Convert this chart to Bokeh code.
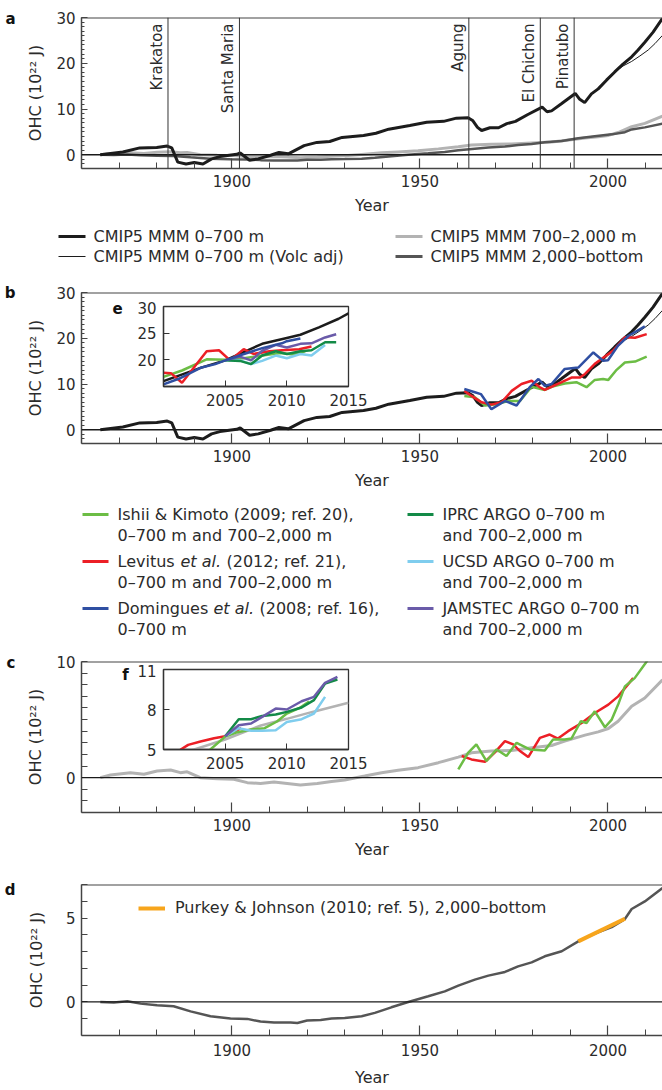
import numpy as np
from bokeh.plotting import figure
from bokeh.models import Range1d, FixedTicker, Span, Label, Legend, LegendItem, LinearAxis
from bokeh.layouts import column
from bokeh.embed import file_html
from bokeh.resources import INLINE
from bokeh.core.properties import value

FONT = "DejaVu Sans"
TXT = "#2b2b2b"
AX = "#444444"

# ---------------------------------------------------------------- data
volc_years = [1883, 1902, 1963, 1982, 1991]
volc_names = ["Krakatoa", "Santa Maria", "Agung", "El Chichon", "Pinatubo"]

# CMIP5 MMM 0-700 m
upper_years = [1865, 1871, 1875.5, 1880, 1882.8, 1884.0, 1885.6, 1887.8, 1890, 1892.3,
               1894.6, 1896.8, 1901.3, 1902.2, 1904.7, 1907, 1910.3, 1912.5, 1915, 1919.2,
               1922.6, 1926, 1929.3, 1935, 1938.3, 1941.7, 1947.3, 1951.8, 1956.3, 1959.7,
               1962.8, 1964.0, 1965.3, 1966.4, 1968.6, 1970.9, 1973.1, 1975.4, 1978.7, 1982.5,
               1983.8, 1985, 1987.7, 1991.3, 1992.4, 1993.8, 1995.6, 1997.4, 1999.6, 2001.8,
               2004.0, 2006.3, 2008.0, 2009.8, 2012.0, 2014.5]
upper_ohc = [0.0, 0.6, 1.5, 1.6, 1.9, 1.5, -1.6, -2.0, -1.7, -2.0,
             -0.9, -0.4, 0.1, 0.4, -1.2, -0.9, -0.1, 0.5, 0.2, 2.0,
             2.7, 2.9, 3.8, 4.2, 4.7, 5.6, 6.4, 7.1, 7.3, 8.0,
             8.1, 7.5, 6.0, 5.3, 5.9, 5.9, 6.8, 7.3, 8.8, 10.4,
             9.4, 9.6, 11.2, 13.4, 12.2, 11.4, 13.3, 14.4, 16.3, 18.1,
             19.8, 21.4, 22.9, 24.6, 26.8, 29.8]

# CMIP5 MMM 0-700 m (Volc adj)
volc_adj_years = [2001.8, 2004.0, 2006.3, 2008.5, 2010.7, 2012.5, 2014.5]
volc_adj_ohc = [18.1, 19.4, 20.4, 21.6, 22.9, 24.3, 26.1]

# CMIP5 MMM 700-2,000 m
mid_years = [1865, 1867.7, 1873, 1876.6, 1880.1, 1883.7, 1886.3, 1888.1, 1891.6, 1896.1,
             1900.5, 1904.1, 1907.6, 1911.2, 1914.7, 1918.2, 1922.7, 1926.5, 1930, 1935.3,
             1939.8, 1944.2, 1949.5, 1954.9, 1960.2, 1963.7, 1969, 1974.4, 1979.7, 1985,
             1988.5, 1993.9, 1997.4, 2000.1, 2002.7, 2006.3, 2009.8, 2014.5]
mid_ohc = [0.0, 0.23, 0.43, 0.29, 0.57, 0.66, 0.43, 0.5, 0.0, -0.1,
           -0.14, -0.43, -0.5, -0.37, -0.5, -0.63, -0.5, -0.34, -0.2, 0.14,
           0.43, 0.63, 0.86, 1.29, 1.77, 2.14, 2.29, 2.34, 2.57, 2.77,
           3.14, 3.66, 3.94, 4.23, 4.86, 6.14, 6.86, 8.43]

# CMIP5 MMM 2,000-bottom
deep_years = [1865, 1868.6, 1872.2, 1875.7, 1880.1, 1884.5, 1889, 1894.3, 1899.6, 1904.1,
              1907.6, 1911.2, 1915.6, 1917.4, 1920, 1923.6, 1926.5, 1930, 1934.5, 1938,
              1942.4, 1946.9, 1952.2, 1956.6, 1960.2, 1964.6, 1968.2, 1972.6, 1976.1, 1979.7,
              1983.2, 1987.7, 1992.1, 1996.5, 2001, 2004.5, 2006.3, 2009.8, 2014.5]
deep_ohc = [0.0, -0.04, 0.04, -0.1, -0.2, -0.26, -0.56, -0.85, -0.99, -1.01,
            -1.17, -1.23, -1.23, -1.25, -1.11, -1.07, -0.99, -0.95, -0.85, -0.65,
            -0.32, 0.0, 0.34, 0.63, 0.97, 1.33, 1.57, 1.79, 2.12, 2.36,
            2.72, 3.02, 3.61, 4.07, 4.46, 4.94, 5.54, 5.99, 6.79]

# observations, panel b
ishii_b_years = [1961.8, 1964.6, 1967.3, 1969.9, 1973.5, 1976.6, 1979.7, 1983.2, 1985.0, 1988.5,
                 1991.6, 1994.3, 1996.5, 1998.7, 2000.1, 2002.3, 2004.5, 2007.2, 2010.3]
ishii_b = [7.4, 7.1, 5.3, 5.5, 6.3, 6.3, 9.4, 8.7, 9.4, 10.1,
           10.4, 9.3, 10.9, 11.1, 10.9, 13.1, 14.7, 14.9, 16.0]
levitus_b_years = [1961.8, 1963.7, 1966.4, 1969.0, 1971.7, 1974.4, 1977.0, 1979.7, 1981.9, 1983.2,
                   1985.0, 1987.7, 1990.3, 1992.5, 1993.9, 1996.5, 1999.2, 2001.4, 2004.5, 2007.2,
                   2010.3]
levitus_b = [8.5, 7.4, 6.0, 5.5, 6.0, 8.5, 10.0, 10.7, 9.3, 8.7,
             9.4, 10.4, 11.4, 11.4, 12.2, 14.4, 16.0, 17.3, 20.2, 20.1,
             20.9]
domingues_years = [1961.8, 1964.6, 1966.2, 1969.0, 1972.6, 1975.7, 1979.2, 1981.5, 1983.2, 1985.0,
                   1988.5, 1992.1, 1996.1, 1998.7, 2000.0, 2002.7, 2005.4, 2009.8]
domingues = [8.9, 8.2, 7.8, 4.5, 6.3, 5.3, 9.3, 11.1, 9.6, 10.0,
             13.3, 13.6, 16.9, 15.1, 15.2, 18.4, 20.5, 22.6]

# observations, panel c (700-2,000 m)
ishii_c_years = [1960.2, 1962.8, 1965.0, 1967.7, 1970.4, 1973.0, 1975.7, 1979.2, 1983.2, 1985.4,
                 1988.5, 1990.3, 1992.8, 1994.3, 1996.5, 1999.2, 2001.0, 2002.7, 2004.5, 2007.1,
                 2010.3, 2012.0]
ishii_c = [0.71, 2.14, 2.86, 1.43, 2.43, 1.86, 3.0, 2.43, 2.34, 3.29,
           3.29, 3.37, 4.86, 4.71, 5.71, 4.34, 5.0, 6.29, 7.86, 8.57,
           10.0, 11.0]
levitus_c_years = [1961.1, 1963.7, 1967.3, 1969.8, 1972.6, 1974.8, 1976.6, 1978.8, 1981.9, 1984.5,
                   1986.7, 1989.4, 1993.0, 1996.5, 2000.1, 2002.7, 2006.7]
levitus_c = [1.86, 1.57, 1.37, 2.14, 3.14, 2.86, 2.29, 1.77, 3.43, 3.71,
             3.37, 4.0, 4.71, 5.57, 6.29, 7.0, 8.57]

# Purkey & Johnson (2010), 2,000-bottom
purkey_years = [1992.1, 2004.5]
purkey = [3.61, 4.96]

# inset e (2000-2015)
e_cmip_years = [2000, 2003, 2005, 2008, 2010, 2011.1, 2012.6, 2014.2, 2015]
e_cmip = [16.0, 18.5, 19.9, 23.0, 24.1, 24.7, 26.1, 27.7, 28.7]
e_levitus_years = [2000, 2000.6, 2001.5, 2003.5, 2004.5, 2005.4, 2006.5, 2007.3, 2008.6, 2009.6, 2011.0, 2012.0]
e_levitus = [17.6, 17.5, 15.7, 21.6, 21.8, 19.9, 22.0, 21.1, 21.6, 21.8, 22.0, 22.5]
e_ishii_years = [2000, 2001.5, 2003.5, 2005, 2006.5, 2008, 2009.5, 2010.5, 2011.5]
e_ishii = [16.8, 18.0, 20.1, 20.0, 20.3, 20.8, 21.3, 21.0, 21.6]
e_domingues_years = [2000, 2001.4, 2003.0, 2004.2, 2005, 2006.4, 2008, 2009.6, 2010, 2011.1]
e_domingues = [15.4, 16.6, 18.5, 19.2, 19.9, 21.0, 22.2, 23.1, 23.5, 24.0]
e_argo_years = [2005, 2006.2, 2007.1, 2008, 2009.1, 2010, 2011.1, 2012, 2013.1, 2014]
e_iprc = [19.9, 19.8, 19.2, 20.8, 21.6, 21.1, 21.6, 21.8, 23.3, 23.3]
e_ucsd = [19.9, 19.9, 19.2, 19.8, 20.8, 20.3, 21.1, 20.8, 22.8]
e_jamstec = [19.9, 20.6, 19.9, 21.7, 22.8, 22.3, 23.0, 23.1, 24.2, 24.8]

# inset f (2000-2015)
f_cmip_years = [2000, 2002.5, 2005, 2007.9, 2010, 2012, 2015]
f_cmip = [4.3, 5.0, 5.75, 6.8, 7.3, 7.8, 8.5]
f_levitus_years = [2000.8, 2001.4, 2002, 2003, 2004.1, 2005, 2006.3]
f_levitus = [4.4, 5.0, 5.35, 5.6, 5.85, 6.0, 6.6]
f_ishii_years = [2003.0, 2003.8, 2005, 2006, 2007.1, 2008.2, 2009.2, 2010, 2011, 2011.8]
f_ishii = [4.3, 5.0, 5.97, 6.3, 6.5, 6.6, 7.1, 7.7, 8.1, 8.6]
f_argo_years = [2005, 2006.1, 2007.1, 2008, 2009.1, 2010, 2011.2, 2012.2, 2013.1, 2014.1]
f_iprc = [6.0, 7.27, 7.27, 7.52, 7.62, 7.82, 8.15, 8.7, 9.95, 10.25]
f_jamstec = [6.0, 6.82, 6.95, 7.45, 8.07, 8.0, 8.62, 8.95, 10.0, 10.45]
f_ucsd = [6.0, 6.6, 6.4, 6.4, 6.45, 7.07, 7.27, 7.7, 8.95]

# ---------------------------------------------------------------- styles
C_UPPER = "#1c1c1c"
C_MID = "#b3b3b3"
C_DEEP = "#555555"
C_ISHII = "#6cbd45"
C_LEV = "#ec1f26"
C_DOM = "#2f4fa2"
C_IPRC = "#138a47"
C_UCSD = "#7fcdee"
C_JAM = "#6a5ba9"
C_PURKEY = "#f7a51c"

X_MAJOR = [1900, 1950, 2000]
X_MINOR = list(range(1870, 2011, 10))


def no_align(p):
    try:
        p.frame_align = False
    except Exception:
        pass


def style_axes(p, ylabel_standoff=8, xlab_standoff=6, xaxis_label_standoff=6):
    xa = p.xaxis[0]
    ya = p.yaxis[0]
    for a in (xa, ya):
        a.axis_line_color = AX
        a.axis_line_width = 1.5
        a.major_tick_line_color = AX
        a.minor_tick_line_color = AX
        a.major_tick_line_width = 1.2
        a.minor_tick_line_width = 1.0
        a.major_tick_out = 0
        a.minor_tick_out = 0
        a.major_label_text_font = FONT
        a.major_label_text_font_size = "15px"
        a.major_label_text_color = TXT
        a.axis_label_text_font = FONT
        a.axis_label_text_font_size = "16px"
        a.axis_label_text_font_style = "normal"
        a.axis_label_text_color = TXT
    xa.major_label_standoff = xlab_standoff
    xa.axis_label_standoff = xaxis_label_standoff
    ya.major_label_standoff = 6
    ya.axis_label_standoff = ylabel_standoff


def main_panel(height, top, y0, y1, yticks, yminor, ylabels=None, ymajor_in=6, yminor_in=3,
               ylabel_standoff=8, xlab_standoff=6, xaxis_label_standoff=6):
    frame_h = 151
    p = figure(width=662, height=height, x_range=Range1d(1860, 2014.5), y_range=Range1d(y0, y1),
               toolbar_location=None, output_backend="svg",
               min_border_left=81, min_border_right=0, min_border_top=top,
               min_border_bottom=height - top - frame_h)
    no_align(p)
    p.outline_line_color = None
    p.grid.visible = False
    p.border_fill_alpha = 0
    p.xaxis.ticker = FixedTicker(ticks=X_MAJOR, minor_ticks=X_MINOR)
    p.xaxis.axis_label = "Year"
    p.xaxis.major_tick_in = 10
    p.xaxis.minor_tick_in = 6
    p.yaxis.ticker = FixedTicker(ticks=yticks, minor_ticks=yminor)
    p.yaxis.axis_label = "OHC (10²² J)"
    p.yaxis.major_tick_in = ymajor_in
    p.yaxis.minor_tick_in = yminor_in
    if ylabels is not None:
        p.yaxis.major_label_overrides = {t: (str(t) if t in ylabels else "") for t in yticks}
    style_axes(p, ylabel_standoff, xlab_standoff, xaxis_label_standoff)
    p.add_layout(Span(location=0, dimension="width", line_color="#1a1a1a", line_width=1.3))
    p.add_layout(Span(location=y1, dimension="width", line_color=AX, line_width=2))
    return p


def panel_letter(p, txt, at):
    # an outer, line-less left axis whose single tick label is the panel letter
    ax = LinearAxis(ticker=FixedTicker(ticks=[at]), major_label_overrides={at: txt},
                    axis_line_color=None, major_tick_line_color=None,
                    minor_tick_line_color=None, major_tick_in=0, major_tick_out=0,
                    minor_tick_in=0, minor_tick_out=0, major_label_standoff=8,
                    major_label_text_font=FONT, major_label_text_font_style="bold",
                    major_label_text_font_size="15px", major_label_text_color="#111111")
    p.add_layout(ax, "left")


def letter(p, txt, x, y):
    p.add_layout(Label(x=x, y=y, x_units="screen", y_units="screen", text=txt,
                       text_font=FONT, text_font_style="bold", text_font_size="15px",
                       text_color="#111111", text_align="center", text_baseline="middle"))


# ---------------------------------------------------------------- panel a
pa = main_panel(222, 17, -3, 30, [0, 10, 20, 30], list(range(-3, 31)))
for yr in volc_years:
    pa.add_layout(Span(location=yr, dimension="height", line_color="#333333", line_width=1))
pa.text(x=volc_years, y=[30] * len(volc_years), text=volc_names, angle=np.pi / 2,
        text_align="right", text_baseline="bottom", x_offset=-2, y_offset=6,
        text_font=value(FONT), text_font_size="15px", text_color=TXT)
pa.line(mid_years, mid_ohc, line_color=C_MID, line_width=3)
pa.line(deep_years, deep_ohc, line_color=C_DEEP, line_width=2.5)
pa.line(upper_years, upper_ohc, line_color=C_UPPER, line_width=3)
pa.line(volc_adj_years, volc_adj_ohc, line_color=C_UPPER, line_width=1)
panel_letter(pa, "a", 29.6)


# ---------------------------------------------------------------- legend strips
def strip(h):
    p = figure(width=662, height=h, x_range=Range1d(0, 662), y_range=Range1d(h, 0),
               x_axis_type=None, y_axis_type=None, toolbar_location=None, output_backend="svg",
               min_border=0, min_border_left=0, min_border_right=0, min_border_top=0,
               min_border_bottom=0)
    no_align(p)
    p.outline_line_color = None
    p.grid.visible = False
    p.background_fill_alpha = 0
    p.border_fill_alpha = 0
    return p


def txt(p, x, y, s, style="normal"):
    p.text(x=[x], y=[y], text=[s], text_font=value(FONT), text_font_size="16px",
           text_font_style=style, text_color=TXT, text_baseline="middle", text_align="left")


legA = strip(53)
legA_labels = ["CMIP5 MMM 0–700 m", "CMIP5 MMM 0–700 m (Volc adj)",
               "CMIP5 MMM 700–2,000 m", "CMIP5 MMM 2,000–bottom"]
legA_colors = [C_UPPER, C_UPPER, C_MID, C_DEEP]
legA_widths = [3, 1, 3, 3]
legA_pos = [(58, 14), (58, 34), (395, 14), (395, 34)]
for lab, c, w, (x, y) in zip(legA_labels, legA_colors, legA_widths, legA_pos):
    legA.segment(x0=[x], y0=[y], x1=[x + 27], y1=[y], line_color=c, line_width=w)
    txt(legA, x + 35, y, lab)

# ---------------------------------------------------------------- panel b
pb = main_panel(220, 17, -3, 30, [0, 10, 20, 30], list(range(-3, 31)))
pb.line(upper_years, upper_ohc, line_color=C_UPPER, line_width=3)
pb.line(volc_adj_years, volc_adj_ohc, line_color=C_UPPER, line_width=1)
pb.line(ishii_b_years, ishii_b, line_color=C_ISHII, line_width=2.5)
pb.line(levitus_b_years, levitus_b, line_color=C_LEV, line_width=2.5)
pb.line(domingues_years, domingues, line_color=C_DOM, line_width=2.5)
panel_letter(pb, "b", 30)
letter(pb, "e", 36, 136)


def inset(y0, y1, yticks):
    p = figure(width=245, height=115, x_range=Range1d(2000, 2015), y_range=Range1d(y0, y1),
               toolbar_location=None, output_backend="svg",
               min_border_left=40, min_border_right=20, min_border_top=5, min_border_bottom=30)
    no_align(p)
    p.grid.visible = False
    p.outline_line_color = "#333333"
    p.outline_line_width = 1.3
    p.border_fill_alpha = 0
    p.background_fill_color = "white"
    p.xaxis.ticker = FixedTicker(ticks=[2005, 2010, 2015])
    p.yaxis.ticker = FixedTicker(ticks=yticks)
    for a in (p.xaxis[0], p.yaxis[0]):
        a.axis_line_color = "#333333"
        a.axis_line_width = 1.3
        a.major_tick_in = 6
        a.major_tick_out = 0
        a.minor_tick_in = 0
        a.minor_tick_out = 0
        a.major_tick_line_color = "#333333"
        a.major_label_text_font = FONT
        a.major_label_text_font_size = "15px"
        a.major_label_text_color = TXT
        a.major_label_standoff = 7
    return p


pe = inset(15, 30, [20, 25, 30])
pe.line(e_cmip_years, e_cmip, line_color=C_UPPER, line_width=2.5)
pe.line(e_ishii_years, e_ishii, line_color=C_ISHII, line_width=2.5)
pe.line(e_levitus_years, e_levitus, line_color=C_LEV, line_width=2.5)
pe.line(e_argo_years[:len(e_ucsd)], e_ucsd, line_color=C_UCSD, line_width=2.5)
pe.line(e_argo_years, e_iprc, line_color=C_IPRC, line_width=2.5)
pe.line(e_argo_years, e_jamstec, line_color=C_JAM, line_width=2.5)
pe.line(e_domingues_years, e_domingues, line_color=C_DOM, line_width=2.5)
pe.margin = (-194, 0, 79, 123)

# ---------------------------------------------------------------- legend b
legB = strip(153)
legB_first = ["Ishii & Kimoto (2009; ref. 20),", None, None,
              "IPRC ARGO 0–700 m", "UCSD ARGO 0–700 m", "JAMSTEC ARGO 0–700 m"]
legB_second = ["0–700 m and 700–2,000 m", "0–700 m and 700–2,000 m", "0–700 m",
               "and 700–2,000 m", "and 700–2,000 m", "and 700–2,000 m"]
legB_colors = [C_ISHII, C_LEV, C_DOM, C_IPRC, C_UCSD, C_JAM]
legB_pos = [(82, 19), (82, 66), (82, 113), (407, 19), (407, 66), (407, 113)]
for i, (c, (x, y)) in enumerate(zip(legB_colors, legB_pos)):
    legB.segment(x0=[x], y0=[y], x1=[x + 26], y1=[y], line_color=c, line_width=3)
    tx = x + 35
    if legB_first[i] is not None:
        txt(legB, tx, y, legB_first[i])
    txt(legB, tx, y + 21, legB_second[i])
# first lines with italic "et al."
lx, ly = legB_pos[1][0] + 35, legB_pos[1][1]
txt(legB, lx, ly, "Levitus")
txt(legB, lx + 63, ly, "et al.", "italic")
txt(legB, lx + 63 + 46, ly, "(2012; ref. 21),")
dx, dy = legB_pos[2][0] + 35, legB_pos[2][1]
txt(legB, dx, dy, "Domingues")
txt(legB, dx + 96, dy, "et al.", "italic")
txt(legB, dx + 96 + 46, dy, "(2008; ref. 16),")

# ---------------------------------------------------------------- panel c
pc = main_panel(218, 13, -3, 10, list(range(-3, 11)), [], ylabels=[0, 10],
                ymajor_in=6, yminor_in=0)
pc.line(mid_years, mid_ohc, line_color=C_MID, line_width=3)
pc.line(levitus_c_years, levitus_c, line_color=C_LEV, line_width=2.5)
pc.line(ishii_c_years, ishii_c, line_color=C_ISHII, line_width=2.5)
panel_letter(pc, "c", 9.9)
letter(pc, "f", 44, 138)

pf = inset(5, 11, [5, 8, 11])
pf.line(f_cmip_years, f_cmip, line_color=C_MID, line_width=2.5)
pf.line(f_levitus_years, f_levitus, line_color=C_LEV, line_width=2.5)
pf.line(f_ishii_years, f_ishii, line_color=C_ISHII, line_width=2.5)
pf.line(f_argo_years[:len(f_ucsd)], f_ucsd, line_color=C_UCSD, line_width=2.5)
pf.line(f_argo_years, f_iprc, line_color=C_IPRC, line_width=2.5)
pf.line(f_argo_years, f_jamstec, line_color=C_JAM, line_width=2.5)
pf.margin = (-202, 0, 87, 123)

# ---------------------------------------------------------------- panel d
pd = main_panel(224, 18, -2, 7, list(range(-2, 8)), [], ylabels=[0, 5],
                ymajor_in=6, yminor_in=0, ylabel_standoff=17, xlab_standoff=8,
                xaxis_label_standoff=9)
pd.line(deep_years, deep_ohc, line_color=C_DEEP, line_width=2.5)
r_purkey = pd.line(purkey_years, purkey, line_color=C_PURKEY, line_width=4)
leg = Legend(items=[LegendItem(label="Purkey & Johnson (2010; ref. 5), 2,000–bottom",
                               renderers=[r_purkey])],
             location=(57, 118), padding=0, margin=0, spacing=0, glyph_width=27,
             glyph_height=18, label_standoff=10, border_line_color=None,
             background_fill_alpha=0, label_text_font=FONT, label_text_font_size="16px",
             label_text_color=TXT)
pd.add_layout(leg)
panel_letter(pd, "d", 6.7)

layout = column(pa, legA, pb, pe, legB, pc, pf, pd, spacing=0)
open("out.html", "w").write(file_html(layout, INLINE))
